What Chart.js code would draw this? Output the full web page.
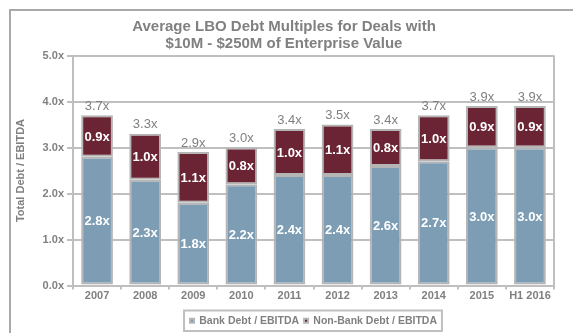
<!DOCTYPE html>
<html>
<head>
<meta charset="utf-8">
<script src="https://cdn.jsdelivr.net/npm/chart.js@4"></script>
<style>
  html, body { margin: 0; padding: 0; background: #ffffff; }
  #wrap { position: relative; width: 573px; height: 333px; overflow: hidden; }
  #frame { position: absolute; left: 9px; top: 9px; width: 600px; height: 400px; border: 2px solid #a9a9a9; box-sizing: border-box; }
  canvas { position: absolute; left: 0; top: 0; }
</style>
</head>
<body>
<div id="wrap">
  <div id="frame"></div>
  <canvas id="c" width="573" height="333"></canvas>
</div>
<script>
const categories = ['2007', '2008', '2009', '2010', '2011', '2012', '2013', '2014', '2015', 'H1 2016'];
const bankDebt = [2.8, 2.3, 1.8, 2.2, 2.4, 2.4, 2.6, 2.7, 3.0, 3.0];
const nonBankDebt = [0.9, 1.0, 1.1, 0.8, 1.0, 1.1, 0.8, 1.0, 0.9, 0.9];
const totalDebt = [3.7, 3.3, 2.9, 3.0, 3.4, 3.5, 3.4, 3.7, 3.9, 3.9];
const yTicks = [0, 1, 2, 3, 4, 5];

const GRAY = '#808080';
const FONT = "'Liberation Sans', Arial, sans-serif";

const labelPlugin = {
  id: 'labels',
  afterDatasetsDraw(chart) {
    const ctx = chart.ctx;
    ctx.save();
    ctx.textAlign = 'center';
    ctx.textBaseline = 'middle';
    chart.data.datasets.forEach((ds, di) => {
      const meta = chart.getDatasetMeta(di);
      meta.data.forEach((bar, i) => {
        const cy = (bar.y + bar.base) / 2;
        ctx.fillStyle = '#ffffff';
        ctx.font = 'bold 13px ' + FONT;
        ctx.fillText(ds.data[i].toFixed(1) + 'x', bar.x, cy + 1);
      });
    });
    const top = chart.getDatasetMeta(1);
    top.data.forEach((bar, i) => {
      const y = chart.scales.y.getPixelForValue(totalDebt[i]);
      ctx.fillStyle = GRAY;
      ctx.font = '13px ' + FONT;
      ctx.fillText(totalDebt[i].toFixed(1) + 'x', bar.x, y - 9);
    });
    const a = chart.chartArea;
    ctx.strokeStyle = '#bfbfbf';
    ctx.lineWidth = 2;
    ctx.beginPath();
    ctx.moveTo(a.right, a.top);
    ctx.lineTo(a.right, a.bottom);
    ctx.stroke();
    ctx.restore();
  },
  afterDraw(chart) {
    const l = chart.legend;
    const ctx = chart.ctx;
    ctx.save();
    ctx.strokeStyle = '#bfbfbf';
    ctx.lineWidth = 2;
    const hb = l.legendHitBoxes;
    if (hb && hb.length) {
      const x0 = hb[0].left - 6;
      const last = hb[hb.length - 1];
      const x1 = last.left + last.width + 5;
      const y0 = hb[0].top - 5;
      const y1 = hb[0].top + hb[0].height + 5;
      ctx.strokeRect(x0, y0, x1 - x0, y1 - y0);
    }
    ctx.restore();
  }
};

new Chart(document.getElementById('c'), {
  type: 'bar',
  data: {
    labels: categories,
    datasets: [
      {
        label: 'Bank Debt / EBITDA',
        data: bankDebt,
        backgroundColor: '#7d9db5',
        borderColor: '#b5b5b5',
        borderWidth: 2,
        borderSkipped: false,
        barPercentage: 0.66,
        categoryPercentage: 1.0
      },
      {
        label: 'Non-Bank Debt / EBITDA',
        data: nonBankDebt,
        backgroundColor: '#6b2434',
        borderColor: '#b5b5b5',
        borderWidth: 2,
        borderSkipped: false,
        barPercentage: 0.66,
        categoryPercentage: 1.0
      }
    ]
  },
  options: {
    responsive: false,
    animation: false,
    layout: { padding: { left: 14, right: 19, top: 10, bottom: -3 } },
    plugins: {
      title: {
        display: true,
        text: ['Average LBO Debt Multiples for Deals with', '$10M - $250M of Enterprise Value'],
        color: GRAY,
        font: { family: FONT, size: 15, weight: 'bold', lineHeight: 1.15 },
        padding: { top: 8, bottom: 3 }
      },
      legend: {
        position: 'bottom',
        fullSize: false,
        labels: {
          color: GRAY,
          font: { family: FONT, size: 10.5, weight: 'bold' },
          boxWidth: 4,
          boxHeight: 4,
          padding: 5
        }
      },
      tooltip: { enabled: false }
    },
    scales: {
      x: {
        stacked: true,
        offset: true,
        grid: { display: true, drawOnChartArea: false, offset: true, color: '#bfbfbf', lineWidth: 2, tickLength: 4 },
        border: { display: true, color: '#bfbfbf', width: 2 },
        ticks: { color: GRAY, font: { family: FONT, size: 11, weight: 'bold' }, padding: 0 },
        afterFit(s) { s.height = 25; }
      },
      y: {
        stacked: true,
        min: 0,
        max: 5,
        afterBuildTicks(s) { s.ticks = yTicks.map(v => ({ value: v })); },
        grid: { color: '#bfbfbf', lineWidth: 2, tickLength: 6 },
        border: { display: true, color: '#bfbfbf', width: 2 },
        ticks: { color: GRAY, font: { family: FONT, size: 11, weight: 'bold' }, padding: 3,
                 callback: v => v.toFixed(1) + 'x' },
        title: { display: true, text: 'Total Debt / EBITDA', color: GRAY,
                 font: { family: FONT, size: 11, weight: 'bold' }, padding: { top: 0, bottom: 8 } },
        afterFit(s) { s.width = 59; }
      }
    }
  },
  plugins: [labelPlugin]
});
</script>
</body>
</html>
